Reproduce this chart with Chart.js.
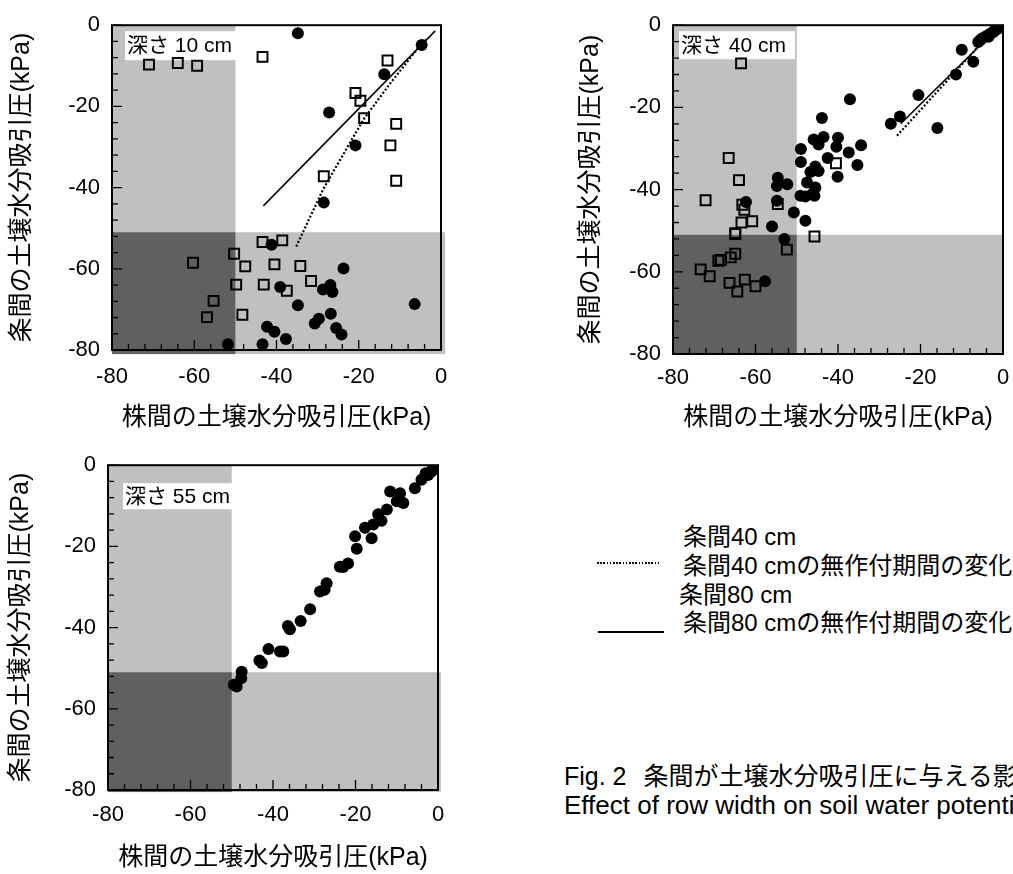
<!DOCTYPE html>
<html>
<head>
<meta charset="utf-8">
<script src="https://cdn.jsdelivr.net/npm/chart.js@4.4.1/dist/chart.umd.min.js"></script>
<style>
html,body{margin:0;padding:0;background:#fff;}
#wrap{position:relative;width:1013px;height:874px;overflow:hidden;background:#fff;}
#wrap canvas{position:absolute;}
.t{position:absolute;white-space:pre;font-family:'Liberation Sans','Noto Sans CJK JP',sans-serif;color:#000;line-height:1;}
</style>
</head>
<body>
<div id="wrap">
  <canvas id="c1" width="470" height="440" style="left:0;top:0"></canvas>
  <canvas id="c2" width="480" height="440" style="left:560px;top:0"></canvas>
  <canvas id="c3" width="470" height="434" style="left:0;top:440px"></canvas>

  <div class="t" style="left:683px;top:525px;font-size:24px;">条間40 cm</div>
  <div style="position:absolute;left:597px;top:562px;width:62px;height:1.6px;background:repeating-linear-gradient(to right,#000 0 1.6px,rgba(0,0,0,0) 1.6px 3.2px);"></div>
  <div class="t" style="left:683px;top:554px;font-size:24px;">条間40 cmの無作付期間の変化</div>
  <div class="t" style="left:679px;top:583px;font-size:24px;">条間80 cm</div>
  <div style="position:absolute;left:598px;top:631px;width:66px;height:2.4px;background:#000;"></div>
  <div class="t" style="left:683px;top:611px;font-size:24px;">条間80 cmの無作付期間の変化</div>

  <div class="t" style="left:564px;top:764px;font-size:25px;">Fig. 2<span style="margin-left:17px">条間が土壌水分吸引圧に与える影響</span></div>
  <div class="t" style="left:564px;top:792px;font-size:26px;">Effect of row width on soil water potential</div>
</div>
<script>
// ---------- axis values ----------
const AXIS_MIN = -80;
const AXIS_MAX = 0;
const tickValues = [-80, -60, -40, -20, 0];
const MINOR_STEP = 4;
const X_CUT = -50;   // 株間 threshold
const Y_CUT = -51;   // 条間 threshold

// ---------- depth 10 cm ----------
const d10SqX = [-71.0,-64.0,-59.3,-43.4,-13.0,-20.8,-19.6,-18.7,-10.9,-12.3,-10.9,-28.5,-43.4,-38.6,-50.3,-60.3,-47.6,-40.5,-34.2,-31.6,-49.8,-43.1,-37.5,-55.3,-56.9,-48.3];
const d10SqY = [-9.7,-9.3,-10.0,-7.8,-8.7,-16.7,-18.6,-22.9,-24.3,-29.6,-38.3,-37.2,-53.4,-53.0,-56.3,-58.5,-59.4,-58.9,-59.3,-63.0,-63.9,-63.9,-65.4,-67.9,-71.9,-71.3];
const d10CiX = [-34.8,-4.7,-13.8,-27.2,-20.8,-28.5,-41.2,-23.7,-39.1,-28.7,-26.9,-26.4,-34.8,-6.4,-26.8,-29.7,-30.7,-42.3,-40.5,-25.5,-24.2,-37.7,-51.8,-43.4];
const d10CiY = [-2.0,-4.9,-12.1,-21.5,-29.6,-43.7,-54.1,-59.9,-64.5,-65.1,-64.0,-65.7,-69.0,-68.7,-71.1,-72.3,-73.5,-74.3,-75.5,-74.6,-76.2,-77.3,-78.6,-78.6];
const d10DotX = [-35.2,-28.6,-18.9,-12.4,-5.1,-3.5];
const d10DotY = [-54.5,-40.3,-23.3,-14.4,-5.0,-3.5];
const d10SolX = [-43.2,-1.4];
const d10SolY = [-44.5,-1.4];

// ---------- depth 40 cm ----------
const d40SqX = [-63.5,-66.5,-64.0,-72.1,-63.2,-62.7,-54.6,-40.5,-60.8,-63.4,-64.9,-64.9,-45.7,-52.4,-64.9,-66.0,-68.4,-69.0,-73.3,-71.1,-66.3,-62.6,-64.4,-60.0];
const d40SqY = [-9.3,-32.3,-37.7,-42.6,-43.7,-44.9,-43.5,-33.6,-47.7,-48.0,-50.6,-50.8,-51.4,-54.6,-55.6,-56.5,-57.1,-57.3,-59.4,-61.1,-62.7,-61.9,-64.8,-63.5];
const d40CiX = [-10.0,-6.0,-7.2,-11.4,-20.5,-25.0,-27.2,-15.9,-5.0,-4.0,-3.0,-2.2,-1.5,-0.8,-5.5,-3.5,-2.0,-1.0,
  -37.1,-43.9,-45.9,-43.5,-44.7,-40.0,-40.4,-49.0,-49.0,-42.5,-37.4,-34.4,-35.3,-40.1,-45.5,-46.7,-44.7,-47.5,-45.5,-46.3,-49.1,-47.9,-45.7,-54.6,-54.8,-52.3,-54.8,-62.3,-50.7,-47.9,-56.0,-53.0,-57.7];
const d40CiY = [-6.0,-4.1,-8.9,-12.0,-17.0,-22.2,-24.0,-25.0,-3.2,-2.6,-2.0,-1.6,-1.0,-0.6,-3.6,-2.8,-1.2,-0.4,
  -18.0,-22.6,-27.8,-27.2,-29.0,-27.4,-29.6,-30.1,-33.3,-32.3,-31.0,-29.2,-34.0,-36.9,-34.4,-35.7,-35.5,-38.3,-39.5,-41.1,-41.5,-41.7,-41.5,-37.1,-39.1,-38.7,-42.7,-43.0,-45.6,-47.6,-49.0,-52.0,-62.3];
const d40DotX = [-25.7,-6.0,-2.0];
const d40DotY = [-26.9,-5.2,-1.6];
const d40SolX = [-24.8,-12.0,-2.0];
const d40SolY = [-24.0,-11.3,-1.4];

// ---------- depth 55 cm ----------
const d55CiX = [-48.8,-47.6,-49.5,-47.7,-42.7,-43.3,-41.1,-38.3,-37.5,-35.9,-36.4,-33.3,-31.0,-28.6,-27.5,-27.0,-23.8,-23.0,-21.8,-19.7,-20.1,-16.1,-17.7,-15.7,-13.7,-14.5,-12.4,-11.6,-9.2,-8.4,-10.0,-5.6,-4.0,-2.4,-1.6,-0.8,-3.0,-1.2];
const d55CiY = [-54.5,-50.9,-54.1,-52.5,-48.7,-48.1,-45.3,-45.9,-45.9,-40.4,-39.6,-38.4,-35.5,-31.1,-30.7,-29.1,-25.0,-25.1,-24.2,-20.6,-17.5,-18.0,-15.4,-14.6,-13.7,-12.1,-10.9,-6.5,-6.9,-9.3,-8.9,-5.7,-3.6,-2.4,-1.6,-0.8,-2.0,-0.4];

const X_TITLE = '株間の土壌水分吸引圧(kPa)';
const Y_TITLE = '条間の土壌水分吸引圧(kPa)';
const FONT = "'Liberation Sans', 'Noto Sans CJK JP', sans-serif";

const pts = (xs, ys) => xs.map((v, i) => ({x: v, y: ys[i]}));

const framePlugin = {
  id: 'frame',
  beforeDatasetsDraw(chart) {
    const o = chart.options.plugins.frame;
    const {ctx, chartArea: a, scales: {x, y}} = chart;
    const px = v => x.getPixelForValue(v), py = v => y.getPixelForValue(v);
    const xl = px(AXIS_MIN), xr = px(AXIS_MAX + o.over[0]), xc = px(X_CUT);
    const yt = py(AXIS_MAX), yb = py(AXIS_MIN - o.over[1]), yc = py(Y_CUT);
    ctx.save();
    ctx.fillStyle = '#c0c0c0';
    ctx.fillRect(xl, yt, xc - xl, yb - yt);
    ctx.fillRect(xl, yc, xr - xl, yb - yc);
    ctx.fillStyle = '#606060';
    ctx.fillRect(xl, yc, xc - xl, yb - yc);
    // depth label
    const b = o.box;
    ctx.fillStyle = '#fff';
    ctx.fillRect(a.left + b[0], a.top + b[1], b[2], b[3]);
    ctx.fillStyle = '#000';
    ctx.font = o.labelFont + 'px ' + FONT;
    ctx.textBaseline = 'middle';
    ctx.textAlign = 'left';
    ctx.fillText(o.label, a.left + b[0] + 2, a.top + b[1] + b[3] / 2 + 1);
    ctx.restore();
  },
  afterDatasetsDraw(chart) {
    const {ctx, chartArea: a, scales: {x, y}} = chart;
    ctx.save();
    ctx.strokeStyle = '#000';
    ctx.lineWidth = 1.3;
    ctx.beginPath();
    for (let v = AXIS_MIN; v <= AXIS_MAX; v += MINOR_STEP) {
      const len = tickValues.includes(v) ? 10 : 6;
      const xp = x.getPixelForValue(v), yp = y.getPixelForValue(v);
      ctx.moveTo(xp, a.bottom); ctx.lineTo(xp, a.bottom - len);
      ctx.moveTo(a.left, yp); ctx.lineTo(a.left + len, yp);
    }
    ctx.stroke();
    ctx.lineWidth = 2;
    ctx.strokeRect(a.left, a.top, a.right - a.left, a.bottom - a.top);
    ctx.restore();
  }
};

function makePanel(p) {
  const datasets = [];
  if (p.ci) datasets.push({data: pts(p.ci[0], p.ci[1]), pointStyle: 'circle', pointRadius: 6,
    backgroundColor: '#000', borderColor: '#000', borderWidth: 0, clip: 0});
  if (p.sq) datasets.push({data: pts(p.sq[0], p.sq[1]), pointStyle: 'rect', pointRadius: 7,
    backgroundColor: 'rgba(0,0,0,0)', borderColor: '#000', borderWidth: 2, clip: 0});
  if (p.dot) datasets.push({type: 'line', data: pts(p.dot[0], p.dot[1]), showLine: true, pointRadius: 0,
    borderColor: '#000', borderWidth: 2.2, borderDash: [2, 2], fill: false, tension: 0, clip: 0});
  if (p.sol) datasets.push({type: 'line', data: pts(p.sol[0], p.sol[1]), showLine: true, pointRadius: 0,
    borderColor: '#000', borderWidth: 1.5, fill: false, tension: 0, clip: 0});

  const tickFont = {family: FONT, size: 22};
  const titleFont = {family: FONT, size: 25};
  new Chart(document.getElementById(p.id), {
    type: 'scatter',
    data: {datasets},
    options: {
      responsive: false, animation: false, devicePixelRatio: 1,
      layout: {padding: {top: p.padTop, right: p.padRight, left: 0, bottom: 0}},
      plugins: {legend: {display: false}, tooltip: {enabled: false},
        frame: {label: p.label, box: p.box, over: p.over, labelFont: p.labelFont}},
      scales: {
        x: {type: 'linear', position: 'bottom', min: AXIS_MIN, max: AXIS_MAX,
          afterFit: s => { s.height = p.xH; },
          afterBuildTicks: s => { s.ticks = tickValues.map(v => ({value: v})); },
          grid: {display: false, drawTicks: false}, border: {display: false},
          ticks: {font: tickFont, color: '#000', padding: p.xTickPad, maxRotation: 0, autoSkip: false},
          title: {display: true, text: X_TITLE, font: titleFont, color: '#000', padding: {top: 0, bottom: p.xTitlePad}}},
        y: {type: 'linear', position: 'left', min: AXIS_MIN, max: AXIS_MAX,
          afterFit: s => { s.width = p.yW; },
          afterBuildTicks: s => { s.ticks = tickValues.map(v => ({value: v})); },
          grid: {display: false, drawTicks: false}, border: {display: false},
          ticks: {font: tickFont, color: '#000', padding: p.yTickPad, autoSkip: false},
          title: {display: true, text: Y_TITLE, font: titleFont, color: '#000', padding: {top: p.yTitlePad, bottom: 0}}}
      }
    },
    plugins: [framePlugin]
  });
}

makePanel({id: 'c1', label: '深さ 10 cm', labelFont: 21,
  sq: [d10SqX, d10SqY], ci: [d10CiX, d10CiY], dot: [d10DotX, d10DotY], sol: [d10SolX, d10SolY],
  yW: 112, xH: 90, padTop: 21, padRight: 29, xTickPad: 14, yTickPad: 12, xTitlePad: 7, yTitlePad: 7,
  box: [13, 6, 112, 29], over: [1, 1]});
makePanel({id: 'c2', label: '深さ 40 cm', labelFont: 21,
  sq: [d40SqX, d40SqY], ci: [d40CiX, d40CiY], dot: [d40DotX, d40DotY], sol: [d40SolX, d40SolY],
  yW: 113, xH: 86, padTop: 23, padRight: 37, xTickPad: 11, yTickPad: 12, xTitlePad: 7, yTitlePad: 16,
  box: [6, 6, 116, 28], over: [0, 0]});
makePanel({id: 'c3', label: '深さ 55 cm', labelFont: 21,
  ci: [d55CiX, d55CiY],
  yW: 108, xH: 84, padTop: 20, padRight: 32, xTickPad: 12, yTickPad: 12, xTitlePad: 1, yTitlePad: 6,
  box: [15, 18, 115, 26], over: [0.7, 0.5]});
</script>
</body>
</html>
